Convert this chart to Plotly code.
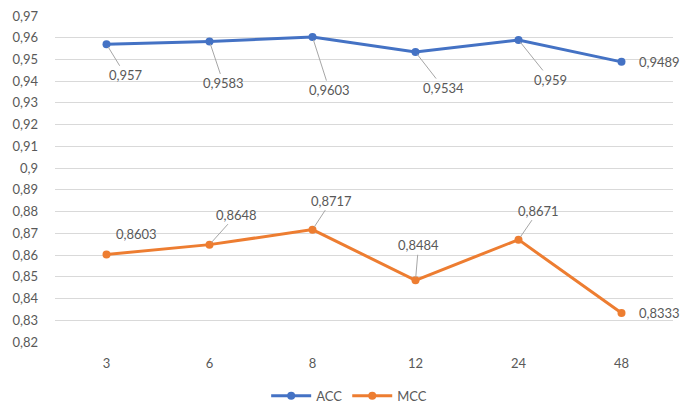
import plotly.graph_objects as go

categories = ["3", "6", "8", "12", "24", "48"]
acc = [0.957, 0.9583, 0.9603, 0.9534, 0.959, 0.9489]
mcc = [0.8603, 0.8648, 0.8717, 0.8484, 0.8671, 0.8333]
ytick_vals = [0.82, 0.83, 0.84, 0.85, 0.86, 0.87, 0.88, 0.89, 0.90, 0.91,
              0.92, 0.93, 0.94, 0.95, 0.96, 0.97]
ytick_text = ["0,82", "0,83", "0,84", "0,85", "0,86", "0,87", "0,88", "0,89", "0,9",
              "0,91", "0,92", "0,93", "0,94", "0,95", "0,96", "0,97"]

# label offsets (pixels) and whether a leader line is drawn
acc_off = [(19, 31, True), (14, 42, True), (17, 53, True), (28, 36, True), (32, 40, True), (38, 0, False)]
mcc_off = [(30, -20, False), (27, -30, True), (19, -29, True), (3, -35, True), (20, -29, True), (38, 0, False)]

BLUE = "#4472C4"
ORANGE = "#ED7D31"
TXT = "#595959"
FONT = "Lato"

fig = go.Figure()
fig.add_trace(go.Scatter(x=categories, y=acc, name="ACC", mode="lines+markers",
                         line=dict(color=BLUE, width=3), marker=dict(size=8, color=BLUE)))
fig.add_trace(go.Scatter(x=categories, y=mcc, name="MCC", mode="lines+markers",
                         line=dict(color=ORANGE, width=3), marker=dict(size=8, color=ORANGE)))

def fmt(v):
    return str(v).replace(".", ",")

annotations = []
for series, offs in ((acc, acc_off), (mcc, mcc_off)):
    for i, (v, (dx, dy, line)) in enumerate(zip(series, offs)):
        annotations.append(dict(
            x=i, y=v, xref="x", yref="y", text=fmt(v), showarrow=True,
            ax=dx, ay=dy, arrowhead=0, arrowwidth=1, standoff=3,
            arrowcolor="#A6A6A6" if line else "rgba(0,0,0,0)",
            font=dict(family=FONT, size=13, color=TXT)))

fig.update_layout(
    width=683, height=405,
    margin=dict(l=55, r=10, t=16, b=63, autoexpand=False),
    paper_bgcolor="white", plot_bgcolor="white",
    font=dict(family=FONT, size=13, color=TXT),
    showlegend=True,
    legend=dict(orientation="h", x=0.476, xanchor="center", xref="paper",
                y=-0.165, yanchor="middle", font=dict(family=FONT, size=13, color=TXT),
                itemwidth=40),
    annotations=annotations,
)
fig.update_xaxes(type="category", range=[-0.5, 5.5], showgrid=False, showline=False,
                 zeroline=False, ticks="", ticklabelstandoff=12,
                 tickfont=dict(family=FONT, size=13, color=TXT))
fig.update_yaxes(range=[0.82, 0.97], tickvals=ytick_vals, ticktext=ytick_text,
                 showgrid=True, gridcolor="#D9D9D9", gridwidth=1, zeroline=False,
                 showline=False, ticks="", ticklabelstandoff=16,
                 tickfont=dict(family=FONT, size=13, color=TXT))

fig.write_html("out.html", config={"displayModeBar": False},
               post_script="document.body.style.margin='0';document.body.style.overflow='hidden';")
